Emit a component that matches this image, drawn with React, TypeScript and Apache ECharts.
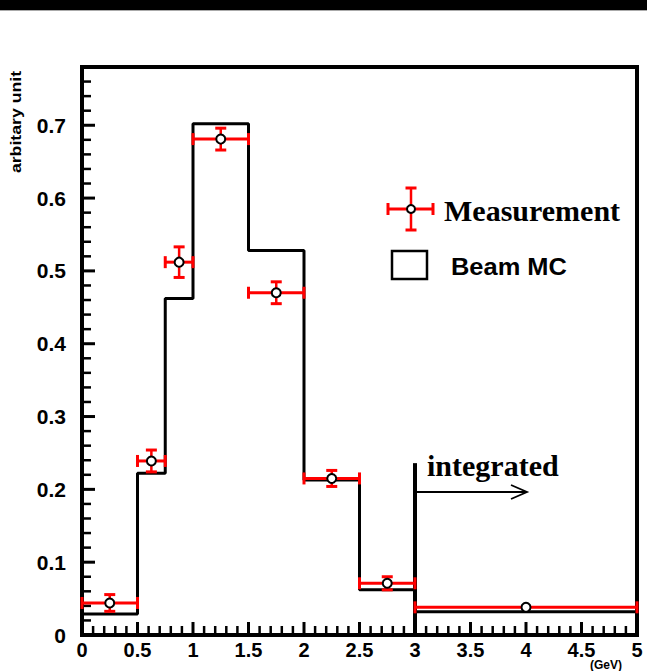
import React, { useEffect, useRef } from "react";
import * as echarts from "echarts";

// Beam MC histogram: bin edges and bin contents
const binEdges = [0, 0.5, 0.75, 1, 1.5, 2, 2.5, 3, 5];
const mcValues = [0.029, 0.222, 0.462, 0.702, 0.528, 0.213, 0.062, 0.032];

// Measurement points with horizontal (bin half-width) and vertical errors
const measX = [0.25, 0.625, 0.875, 1.25, 1.75, 2.25, 2.75, 4];
const measXErr = [0.25, 0.125, 0.125, 0.25, 0.25, 0.25, 0.25, 1];
const measY = [0.044, 0.239, 0.512, 0.681, 0.47, 0.215, 0.071, 0.038];
const measYErr = [0.0115, 0.015, 0.021, 0.015, 0.015, 0.011, 0.009, 0.002];

// Boundary of the integrated last bin
const integratedEdge = [3, 0.236];

const xRange = [0, 5];
const yRange = [0, 0.78];

// Tick positions (major ticks carry labels, minor ticks are shorter)
const xMajorTicks = [0, 0.5, 1, 1.5, 2, 2.5, 3, 3.5, 4, 4.5, 5];
const xMinorStep = 0.1;
const yMajorTicks = [0, 0.1, 0.2, 0.3, 0.4, 0.5, 0.6, 0.7];
const yMinorStep = 0.02;

const RED = "#ff0000";
const SANS = "Liberation Sans";
const SERIF = "Liberation Serif";

function steps(lo: number, hi: number, step: number) {
  const out: number[] = [];
  const n = Math.round((hi - lo) / step);
  for (let i = 0; i <= n; i++) out.push(+(lo + i * step).toFixed(4));
  return out.filter((v) => v <= hi + 1e-9);
}

export default function App() {
  const ref = useRef<HTMLDivElement>(null);

  useEffect(() => {
    if (!ref.current) return;
    const chart = echarts.init(ref.current, null, { renderer: "svg" });

    const mcData: number[][] = binEdges.map((e, i) => [
      e,
      mcValues[Math.min(i, mcValues.length - 1)],
    ]);
    const measData = measX.map((x, i) => [x, measY[i], measXErr[i], measYErr[i]]);

    const xMinorTicks = steps(xRange[0], xRange[1], xMinorStep);
    const yMinorTicks = steps(yRange[0], yRange[1], yMinorStep);

    const tickLabel = (size: number) => ({
      color: "#000",
      fontFamily: SANS,
      fontWeight: "bold" as const,
      fontSize: size,
    });
    const frameLine = { show: true, onZero: false, lineStyle: { color: "#000", width: 4 } };

    chart.setOption({
      animation: false,
      backgroundColor: "#fff",
      grid: {
        left: 82,
        top: 67,
        width: 555,
        height: 568,
        show: true,
        borderColor: "#000",
        borderWidth: 4,
        backgroundColor: "transparent",
      },
      xAxis: {
        type: "value",
        min: xRange[0],
        max: xRange[1],
        interval: 0.5,
        axisLine: frameLine,
        axisTick: { show: false },
        splitLine: { show: false },
        axisLabel: { ...tickLabel(20), margin: 6, lineHeight: 18 },
      },
      yAxis: {
        type: "value",
        min: yRange[0],
        max: yRange[1],
        interval: 0.1,
        axisLine: frameLine,
        axisTick: { show: false },
        splitLine: { show: false },
        axisLabel: { ...tickLabel(21), margin: 16, showMaxLabel: false },
      },
      series: [
        {
          // inward frame ticks
          name: "ticks",
          type: "custom",
          z: 3,
          silent: true,
          data: [[0, 0]],
          encode: { x: 0, y: 1 },
          renderItem: (_params: any, api: any) => {
            const children: any[] = [];
            const tick = (p1: number[], p2: number[], w: number) => {
              children.push({
                type: "line",
                shape: { x1: p1[0], y1: p1[1], x2: p2[0], y2: p2[1] },
                style: { stroke: "#000", lineWidth: w },
              });
            };
            xMinorTicks.forEach((v) => {
              const major = xMajorTicks.some((m) => Math.abs(m - v) < 1e-6);
              const p = api.coord([v, yRange[0]]);
              tick(p, [p[0], p[1] - (major ? 13 : 9)], major ? 3 : 2.5);
            });
            yMinorTicks.forEach((v) => {
              const major = yMajorTicks.some((m) => Math.abs(m - v) < 1e-6);
              const p = api.coord([xRange[0], v]);
              tick(p, [p[0] + (major ? 13 : 9), p[1]], major ? 3 : 2.5);
            });
            return { type: "group", children };
          },
        },
        {
          name: "Beam MC",
          type: "line",
          step: "end",
          data: mcData,
          symbol: "none",
          lineStyle: { color: "#000", width: 3 },
          z: 2,
        },
        {
          name: "integrated edge",
          type: "line",
          data: [
            [integratedEdge[0], 0],
            [integratedEdge[0], integratedEdge[1]],
          ],
          symbol: "none",
          lineStyle: { color: "#000", width: 4 },
          z: 2,
        },
        {
          name: "Measurement",
          type: "custom",
          z: 5,
          data: measData,
          encode: { x: 0, y: 1 },
          renderItem: (_params: any, api: any) => {
            const x = api.value(0);
            const y = api.value(1);
            const xe = api.value(2);
            const ye = api.value(3);
            const c = api.coord([x, y]);
            const l = api.coord([x - xe, y]);
            const r = api.coord([x + xe, y]);
            const t = api.coord([x, y + ye]);
            const b = api.coord([x, y - ye]);
            const red = { stroke: RED, lineWidth: 3 };
            const children: any[] = [
              { type: "line", shape: { x1: l[0], y1: l[1], x2: r[0], y2: r[1] }, style: red },
              { type: "line", shape: { x1: l[0], y1: l[1] - 6, x2: l[0], y2: l[1] + 6 }, style: red },
              { type: "line", shape: { x1: r[0], y1: r[1] - 6, x2: r[0], y2: r[1] + 6 }, style: red },
            ];
            if (b[1] - t[1] > 3) {
              children.push(
                { type: "line", shape: { x1: t[0], y1: t[1], x2: b[0], y2: b[1] }, style: { stroke: RED, lineWidth: 2.5 } },
                { type: "line", shape: { x1: t[0] - 5.5, y1: t[1], x2: t[0] + 5.5, y2: t[1] }, style: red },
                { type: "line", shape: { x1: b[0] - 5.5, y1: b[1], x2: b[0] + 5.5, y2: b[1] }, style: red }
              );
            }
            children.push({
              type: "circle",
              shape: { cx: c[0], cy: c[1], r: 4.5 },
              style: { fill: "#fff", stroke: "#000", lineWidth: 2 },
            });
            return { type: "group", children };
          },
        },
      ],
      graphic: [
        // top frame band
        { type: "rect", shape: { x: 0, y: 0, width: 647, height: 10 }, style: { fill: "#000" } },
        { type: "rect", shape: { x: 0, y: 10, width: 647, height: 1 }, style: { fill: "#aaa" } },
        // y axis title
        {
          type: "text",
          x: 16,
          y: 122,
          rotation: Math.PI / 2,
          scaleX: 1.18,
          style: {
            text: "arbitary unit",
            fontFamily: SANS,
            fontWeight: "bold",
            fontSize: 15,
            fill: "#000",
            align: "center",
            verticalAlign: "middle",
          },
        },
        // x axis unit
        {
          type: "text",
          x: 590,
          y: 659,
          style: {
            text: "(GeV)",
            fontFamily: SANS,
            fontWeight: "bold",
            fontSize: 12,
            fill: "#000",
            align: "left",
            verticalAlign: "top",
          },
        },
        // legend: Measurement
        {
          type: "group",
          children: [
            { type: "line", shape: { x1: 388, y1: 209, x2: 433, y2: 209 }, style: { stroke: RED, lineWidth: 3 } },
            { type: "line", shape: { x1: 388, y1: 203, x2: 388, y2: 215 }, style: { stroke: RED, lineWidth: 3 } },
            { type: "line", shape: { x1: 433, y1: 203, x2: 433, y2: 215 }, style: { stroke: RED, lineWidth: 3 } },
            { type: "line", shape: { x1: 411, y1: 188, x2: 411, y2: 230 }, style: { stroke: RED, lineWidth: 2.5 } },
            { type: "line", shape: { x1: 405.5, y1: 188, x2: 416.5, y2: 188 }, style: { stroke: RED, lineWidth: 3 } },
            { type: "line", shape: { x1: 405.5, y1: 230, x2: 416.5, y2: 230 }, style: { stroke: RED, lineWidth: 3 } },
            { type: "circle", shape: { cx: 411, cy: 209, r: 4 }, style: { fill: "#fff", stroke: "#000", lineWidth: 2 } },
            {
              type: "text",
              x: 444,
              y: 210,
              style: {
                text: "Measurement",
                fontFamily: SERIF,
                fontWeight: "bold",
                fontSize: 30,
                fill: "#000",
                align: "left",
                verticalAlign: "middle",
              },
            },
          ],
        },
        // legend: Beam MC
        {
          type: "group",
          children: [
            { type: "rect", shape: { x: 392, y: 251, width: 35, height: 28 }, style: { fill: "#fff", stroke: "#000", lineWidth: 2.5 } },
            {
              type: "text",
              x: 451,
              y: 267,
              scaleX: 1.06,
              style: {
                text: "Beam MC",
                fontFamily: SANS,
                fontWeight: "bold",
                fontSize: 24,
                fill: "#000",
                align: "left",
                verticalAlign: "middle",
              },
            },
          ],
        },
        // integrated-bin annotation
        {
          type: "text",
          x: 427,
          y: 465,
          style: {
            text: "integrated",
            fontFamily: SERIF,
            fontWeight: "bold",
            fontSize: 30,
            fill: "#000",
            align: "left",
            verticalAlign: "middle",
          },
        },
        { type: "line", shape: { x1: 416, y1: 492, x2: 527, y2: 492 }, style: { stroke: "#000", lineWidth: 1.8 } },
        {
          type: "polyline",
          shape: { points: [[511, 485], [527, 492], [511, 499]] },
          style: { stroke: "#000", lineWidth: 1.8, fill: null },
        },
      ],
    });

    return () => chart.dispose();
  }, []);

  return (
    <div
      ref={ref}
      style={{ position: "absolute", left: 0, top: 0, width: 647, height: 671, background: "#fff" }}
    />
  );
}
